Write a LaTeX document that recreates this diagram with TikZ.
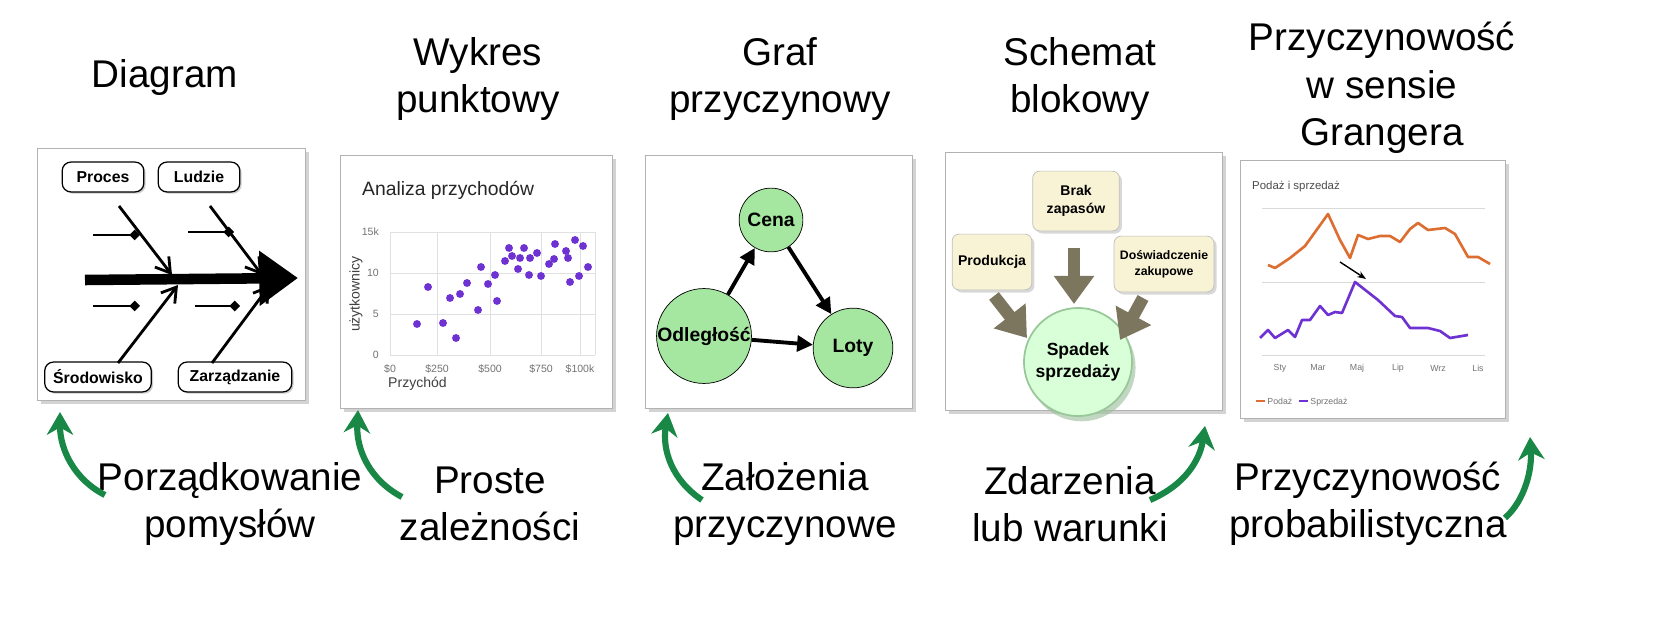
\documentclass[tikz,border=0pt]{standalone}
\usepackage{fontspec}
\setmainfont{Liberation Sans}
\usetikzlibrary{arrows.meta,shadows}
\definecolor{fgreen}{RGB}{25,135,70}
\definecolor{cgreen}{RGB}{165,230,160}
\definecolor{pale}{RGB}{248,243,212}
\definecolor{garrow}{RGB}{125,118,95}
\definecolor{porange}{RGB}{220,110,50}
\definecolor{ppurple}{RGB}{110,50,210}
\begin{document}
\begin{tikzpicture}[x=0.02cm,y=-0.02cm,
 title/.style={font=\fontsize{22}{27}\selectfont,align=center},
 panel/.style={draw=black!30,fill=white,drop shadow={shadow xshift=2pt,shadow yshift=-2pt,opacity=0.35}},
 fbox/.style={draw,rounded corners=5pt,fill=white,font=\bfseries\fontsize{9}{10}\selectfont,minimum height=17pt,line width=0.7pt,drop shadow={shadow xshift=1pt,shadow yshift=-1pt,opacity=0.4}},
 bone/.style={line width=1.6pt,-{Straight Barb[length=8pt,width=10pt]}},
 tick/.style={line width=0.8pt,-{Diamond[length=6pt,width=6pt]}},
 gnode/.style={circle,draw,fill=cgreen,font=\bfseries\fontsize{11}{12}\selectfont,inner sep=0pt},
 garr/.style={line width=2.2pt,-{Triangle[length=9pt,width=9pt]}},
 pbox/.style={draw=black!25,fill=pale,rounded corners=4pt,align=center,font=\bfseries\fontsize{8}{10}\selectfont,drop shadow={shadow xshift=1.5pt,shadow yshift=-1.5pt,opacity=0.3}},
 fat/.style={line width=7pt,draw=garrow,-{Triangle[length=16pt,width=22pt,fill=garrow]}},
 green/.style={fgreen,line width=3.5pt,-{Stealth[length=13pt,width=15pt]}},
 dot/.style={circle,fill=ppurple,inner sep=0pt,minimum size=4.5pt},
 ax/.style={font=\fontsize{6}{7}\selectfont,text=black!55}]
\useasboundingbox (0,0) rectangle (1659,624);
\begin{scope}[overlay]
% titles
\node[title] (t1) at (165,78) {Diagram};
\node[title] (t2) at (478,79) {Wykres\\punktowy};
\node[title] (t3) at (780,79) {Graf\\przyczynowy};
\node[title] (t4) at (1080,79) {Schemat\\blokowy};
\node[title] (t5) at (1382,88) {Przyczynowość\\w sensie\\Grangera};
% bottom labels
\node[title] (b1) at (230,504) {Porządkowanie\\pomysłów};
\node[title] (b2) at (490,504) {Proste\\zależności};
\node[title] (b3) at (785,504) {Założenia\\przyczynowe};
\node[title] (b4) at (1070,504) {Zdarzenia\\lub warunki};
\node[title] (b5) at (1368,504) {Przyczynowość\\probabilistyczna};
% green arrows
\coordinate (g1a) at (105,495); \coordinate (g1b) at (60,412);
\draw[green] (g1a) .. controls (75,480) and (60,450) .. (g1b);
\coordinate (g2a) at (402,497); \coordinate (g2b) at (358,410);
\draw[green] (g2a) .. controls (370,480) and (356,450) .. (g2b);
\coordinate (g3a) at (702,500); \coordinate (g3b) at (668,413);
\draw[green] (g3a) .. controls (672,480) and (662,450) .. (g3b);
\coordinate (g4a) at (1150,500); \coordinate (g4b) at (1205,426);
\draw[green] (g4a) .. controls (1185,485) and (1200,460) .. (g4b);
\coordinate (g5a) at (1505,518); \coordinate (g5b) at (1530,437);
\draw[green] (g5a) .. controls (1525,500) and (1532,470) .. (g5b);
% ---------- panel 1 fishbone
\path[panel] (37,148) rectangle (305,400);
\coordinate (sp0) at (85,280); \coordinate (sp1) at (298,278);
\draw[line width=6pt,-{Triangle[length=22pt,width=30pt]}] (sp0) -- (sp1);
\node[fbox,minimum width=82pt*0.567] (proc) at (103,177) {Proces};
\node[fbox,minimum width=82pt*0.567] (lud) at (199,177) {Ludzie};
\node[fbox,minimum width=107pt*0.567] (srod) at (98,377) {Środowisko};
\node[fbox,minimum width=114pt*0.567] (zarz) at (235,377) {Zarządzanie};
\coordinate (e1) at (172,275); \coordinate (e2) at (262,275);
\coordinate (e3) at (178,285); \coordinate (e4) at (270,285);
\draw[bone] (119,206) -- (e1);
\draw[bone] (210,206) -- (e2);
\draw[bone] (118,363) -- (e3);
\draw[bone] (212,363) -- (e4);
\coordinate (k1) at (93,235); \coordinate (k1e) at (140,235);
\coordinate (k2) at (188,232); \coordinate (k2e) at (234,232);
\coordinate (k3) at (93,306); \coordinate (k3e) at (140,306);
\coordinate (k4) at (195,306); \coordinate (k4e) at (240,306);
\draw[tick] (k1) -- (k1e); \draw[tick] (k2) -- (k2e);
\draw[tick] (k3) -- (k3e); \draw[tick] (k4) -- (k4e);
% ---------- panel 2 scatter
\path[panel] (340,155) rectangle (612,408);
\node[anchor=west,font=\fontsize{11}{12}\selectfont,text=black!85] (st) at (356,190) {Analiza przychodów};
\foreach \yy/\l in {232/15k,273/10,314/5,355/0}{
  \draw[black!12] (390,\yy) -- (595,\yy);
  \node[ax,anchor=east] at (385,\yy) {\l};}
\foreach \xx/\l in {390/\$0,437/\$250,490/\$500,541/\$750,580/\$100k}{
  \draw[black!12] (\xx,232) -- (\xx,355);
  \node[ax] at (\xx,369) {\l};}
\draw[black!12] (595,232) -- (595,355);
\node[anchor=west,font=\fontsize{8}{9}\selectfont,text=black!75] (sx) at (382,384) {Przychód};
\node[rotate=90,font=\fontsize{8}{9}\selectfont,text=black!75] (sy) at (356,294) {użytkownicy};
\foreach \p in {(417,324),(428,287),(443,323),(456,338),(450,298),(460,294),(467,283),(478,310),(481,267),(488,284),(495,275),(497,301),(505,261),(509,248),(512,256),(518,269),(520,258),(524,248),(529,275),(530,258),(537,253),(541,276),(549,264),(555,244),(554,259),(566,251),(568,258),(570,282),(575,240),(579,276),(583,246),(588,267)}
  \node[dot] at \p {};
% ---------- panel 3 graph
\path[panel] (645,155) rectangle (912,408);
\node[gnode,minimum size=64pt*0.567] (cena) at (771,220) {Cena};
\node[gnode,minimum size=90pt*0.567] (odl) at (704,336) {Odległość};
\node[gnode,minimum size=80pt*0.567] (loty) at (853,348) {Loty};
\draw[garr] (odl) -- (cena);
\draw[garr] (cena) -- (loty);
\draw[garr] (odl) -- (loty);
% ---------- panel 4 block
\path[panel] (945,152) rectangle (1222,410);
\node[pbox,minimum width=87pt*0.567,minimum height=60pt*0.567] (brak) at (1076,201) {Brak\\zapasów};
\node[pbox,minimum width=76pt*0.567,minimum height=56pt*0.567] (prod) at (992,262) {Produkcja};
\node[pbox,minimum width=85pt*0.567,minimum height=56pt*0.567,font=\bfseries\fontsize{7}{9}\selectfont] (dosw) at (1164,264) {Doświadczenie\\zakupowe};
\node[circle,draw=green!45!black!40,fill=green!15,line width=1pt,minimum size=90pt*0.567,align=center,font=\bfseries\fontsize{10}{12}\selectfont,drop shadow={shadow xshift=2pt,shadow yshift=-3pt,fill=green!35!black!40,opacity=0.6}] (spad) at (1078,362) {Spadek\\sprzedaży};
\coordinate (f1) at (1074,248); \coordinate (f1e) at (1074,304);
\coordinate (f2) at (994,296); \coordinate (f2e) at (1027,338);
\coordinate (f3) at (1143,298); \coordinate (f3e) at (1120,340);
\draw[fat] (f1) -- (f1e); \draw[fat] (f2) -- (f2e); \draw[fat] (f3) -- (f3e);
% ---------- panel 5 granger
\path[panel] (1240,160) rectangle (1505,418);
\node[anchor=west,font=\fontsize{6.5}{7}\selectfont,text=black!70] (gt) at (1246,187) {Podaż i sprzedaż};
\draw[black!15] (1262,208) -- (1485,208);
\draw[black!15] (1262,282) -- (1485,282);
\draw[black!15] (1262,355) -- (1485,355);
\foreach \xx/\l in {1280/Sty,1318/Mar,1357/Maj,1398/Lip,1438/Wrz,1478/Lis}
  \node[ax,font=\fontsize{5}{6}\selectfont] at (\xx,368) {\l};
\draw[porange,line width=1.5pt,line join=round] (1268,265) -- (1275,268) -- (1290,258) -- (1305,246) -- (1318,228) -- (1328,214) -- (1340,240) -- (1350,258) -- (1358,235) -- (1368,239) -- (1380,236) -- (1390,236) -- (1400,242) -- (1410,229) -- (1418,223) -- (1428,230) -- (1445,228) -- (1455,234) -- (1468,257) -- (1478,257) -- (1490,264);
\draw[ppurple,line width=1.5pt,line join=round] (1260,338) -- (1268,330) -- (1275,338) -- (1288,330) -- (1295,337) -- (1302,320) -- (1310,320) -- (1320,306) -- (1328,315) -- (1335,312) -- (1342,313) -- (1355,282) -- (1378,300) -- (1395,316) -- (1402,317) -- (1410,328) -- (1428,328) -- (1440,331) -- (1450,338) -- (1468,335);
\coordinate (ga) at (1340,262); \coordinate (gb) at (1366,279);
\draw[-{Stealth[length=5pt]},line width=0.8pt] (ga) -- (gb);
\node[anchor=west,font=\fontsize{5}{6}\selectfont,text=black!55] (lg) at (1250,402) {\textcolor{porange}{\rule[1.5pt]{5pt}{1pt}} Podaż \enspace \textcolor{ppurple}{\rule[1.5pt]{5pt}{1pt}} Sprzedaż};
\end{scope}
\end{tikzpicture}
\end{document}
